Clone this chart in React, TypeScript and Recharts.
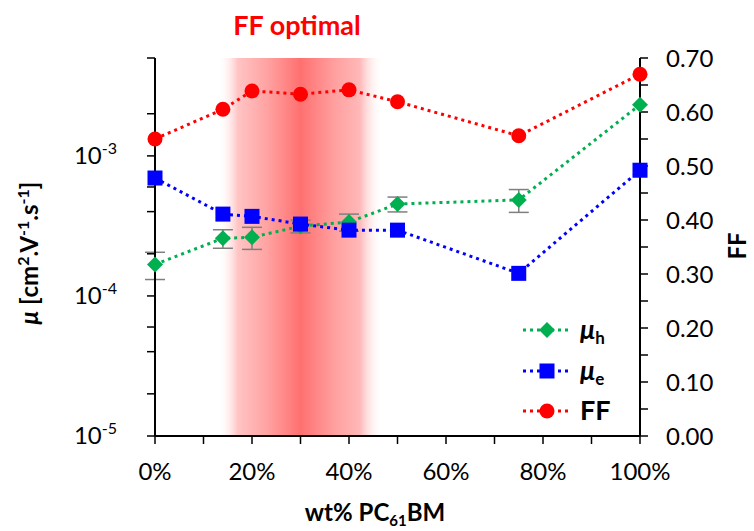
import React from "react";
import { ComposedChart, Line, XAxis, YAxis, ErrorBar, ReferenceArea } from "recharts";

// wt% PC61BM
const pcbm = [0, 14, 20, 30, 40, 50, 75, 100];
// hole mobility, cm2/Vs (left, log)
const muH = [1.68e-4, 2.58e-4, 2.62e-4, 3.15e-4, 3.37e-4, 4.53e-4, 4.85e-4, 2.32e-3];
const muHErr = [0.37e-4, 0.39e-4, 0.47e-4, 0.33e-4, 0.47e-4, 0.55e-4, 0.9e-4, 0];
// electron mobility
const muE = [6.95e-4, 3.84e-4, 3.7e-4, 3.26e-4, 2.95e-4, 2.95e-4, 1.45e-4, 7.9e-4];
// fill factor (right axis)
const ff = [0.55, 0.605, 0.639, 0.633, 0.641, 0.619, 0.556, 0.67];

const xTicks = [0, 10, 20, 30, 40, 50, 60, 70, 80, 90, 100];
const muTicks = [1e-5, 2e-5, 4e-5, 6e-5, 8e-5, 1e-4, 2e-4, 4e-4, 6e-4, 8e-4, 1e-3, 2e-3, 4e-3, 5e-3];
const ffTicks = [0, 0.05, 0.1, 0.15, 0.2, 0.25, 0.3, 0.35, 0.4, 0.45, 0.5, 0.55, 0.6, 0.65, 0.7];
const optimalRange = [13, 47];

const data = pcbm.map((x, i) => ({ x, muH: muH[i], muHErr: muHErr[i], muE: muE[i], ff: ff[i] }));

const FONT = "Lato, 'Open Sans', sans-serif";
const GREEN = "#00b050";
const BLUE = "#0000ff";
const RED = "#ff0000";

const diamond = (cx: number, cy: number, r: number) =>
  `M${cx},${cy - r}L${cx + r},${cy}L${cx},${cy + r}L${cx - r},${cy}Z`;

const DiamondDot = (p: any) =>
  p.cx == null ? null : <path key={p.index} d={diamond(p.cx, p.cy, 8)} fill={GREEN} />;
const SquareDot = (p: any) =>
  p.cx == null ? null : <rect key={p.index} x={p.cx - 7.5} y={p.cy - 7.5} width={15} height={15} fill={BLUE} />;
const CircleDot = (p: any) =>
  p.cx == null ? null : <circle key={p.index} cx={p.cx} cy={p.cy} r={7.5} fill={RED} />;

const MuTick = (p: any) => {
  const v = p.payload.value;
  const e = Math.round(Math.log10(v));
  if (Math.abs(v / Math.pow(10, e) - 1) > 1e-6) return <g />;
  return (
    <text x={p.x} y={p.y + 8} textAnchor="end" fontFamily={FONT} fontSize={24} fill="#000">
      10<tspan dy={-10} fontSize={16}>{e}</tspan>
    </text>
  );
};

const legendRows = [
  { name: "μ", sub: "h", color: GREEN, shape: "diamond", y: 330 },
  { name: "μ", sub: "e", color: BLUE, shape: "square", y: 371 },
  { name: "FF", sub: "", color: RED, shape: "circle", y: 411 },
];

export default function App() {
  return (
    <div style={{ position: "absolute", left: 0, top: 0, width: 754, height: 531, background: "#fff" }}>
      <ComposedChart width={754} height={531} data={data} margin={{ top: 58, right: 0, bottom: 0, left: 0 }}>
        <defs>
          <linearGradient id="band" x1="0" y1="0" x2="1" y2="0">
            <stop offset="0" stopColor="#ffffff" stopOpacity={0} />
            <stop offset="0.12" stopColor="#ffc4c4" />
            <stop offset="0.3" stopColor="#ffa2a2" />
            <stop offset="0.5" stopColor="#ff7070" />
            <stop offset="0.7" stopColor="#ff9e9e" />
            <stop offset="0.86" stopColor="#ffb8b8" />
            <stop offset="1" stopColor="#ffffff" stopOpacity={0} />
          </linearGradient>
        </defs>
        <XAxis
          dataKey="x"
          type="number"
          domain={[0, 100]}
          ticks={xTicks}
          height={95}
          tickSize={8}
          tickMargin={19}
          tickFormatter={(v: number) => (v % 20 === 0 ? `${v}%` : "")}
          tick={{ fontFamily: FONT, fontSize: 24, fill: "#000" }}
          axisLine={{ stroke: "#000", strokeWidth: 2 }}
          tickLine={{ stroke: "#000", strokeWidth: 1.5 }}
        />
        <XAxis
          xAxisId="top"
          orientation="top"
          dataKey="x"
          type="number"
          domain={[0, 100]}
          height={0}
          tick={false}
          tickLine={false}
          axisLine={{ stroke: "#333", strokeWidth: 2 }}
        />
        <YAxis
          yAxisId="mu"
          scale="log"
          type="number"
          domain={[1e-5, 5e-3]}
          allowDataOverflow
          ticks={muTicks}
          width={155}
          tickSize={8}
          tickMargin={30}
          tick={<MuTick />}
          axisLine={{ stroke: "#000", strokeWidth: 2 }}
          tickLine={{ stroke: "#000", strokeWidth: 1.5 }}
        />
        <YAxis
          yAxisId="ff"
          orientation="right"
          type="number"
          domain={[0, 0.7]}
          ticks={ffTicks}
          width={114}
          tickSize={8}
          tickMargin={18}
          tickFormatter={(v: number) => (Math.round(v * 100) % 10 === 0 ? v.toFixed(2) : "")}
          tick={{ fontFamily: FONT, fontSize: 24, fill: "#000" }}
          axisLine={{ stroke: "#000", strokeWidth: 2 }}
          tickLine={{ stroke: "#000", strokeWidth: 1.5 }}
        />
        <ReferenceArea
          yAxisId="mu"
          x1={optimalRange[0]}
          x2={optimalRange[1]}
          y1={1e-5}
          y2={5e-3}
          fill="url(#band)"
          fillOpacity={1}
          stroke="none"
        />
        <Line
          yAxisId="ff"
          dataKey="ff"
          stroke={RED}
          strokeWidth={3}
          strokeDasharray="3 4"
          dot={CircleDot}
          activeDot={false}
          isAnimationActive={false}
        />
        <Line
          yAxisId="mu"
          dataKey="muH"
          stroke={GREEN}
          strokeWidth={3}
          strokeDasharray="3 4"
          dot={DiamondDot}
          activeDot={false}
          isAnimationActive={false}
        >
          <ErrorBar dataKey="muHErr" direction="y" width={10} stroke="#7f7f7f" strokeWidth={1.5} />
        </Line>
        <Line
          yAxisId="mu"
          dataKey="muE"
          stroke={BLUE}
          strokeWidth={3}
          strokeDasharray="3 4"
          dot={SquareDot}
          activeDot={false}
          isAnimationActive={false}
        />

        <text x={297} y={35} textAnchor="middle" fontFamily={FONT} fontWeight="bold" fontSize={27} fill={RED}>
          FF optimal
        </text>
        <text
          x={38}
          y={253}
          transform="rotate(-90 38 253)"
          textAnchor="middle"
          fontFamily={FONT}
          fontWeight="bold"
          fontSize={24}
          fill="#000"
        >
          <tspan fontStyle="italic">μ</tspan> [cm<tspan dy={-9} fontSize={16}>2</tspan>
          <tspan dy={9}>.V</tspan>
          <tspan dy={-9} fontSize={16}>-1</tspan>
          <tspan dy={9}>.s</tspan>
          <tspan dy={-9} fontSize={16}>-1</tspan>
          <tspan dy={9}>]</tspan>
        </text>
        <text
          x={746}
          y={246}
          transform="rotate(-90 746 246)"
          textAnchor="middle"
          fontFamily={FONT}
          fontWeight="bold"
          fontSize={24}
          fill="#000"
        >
          FF
        </text>
        <text x={375} y={521} textAnchor="middle" fontFamily={FONT} fontWeight="bold" fontSize={24} fill="#000">
          wt% PC<tspan dy={5} fontSize={15}>61</tspan>
          <tspan dy={-5}>BM</tspan>
        </text>
        {legendRows.map((r) => (
          <g key={r.sub || r.name}>
            <line x1={523} x2={570} y1={r.y} y2={r.y} stroke={r.color} strokeWidth={3} strokeDasharray="3 4" />
            {r.shape === "diamond" && <path d={diamond(547, r.y, 8)} fill={r.color} />}
            {r.shape === "square" && <rect x={539.5} y={r.y - 7.5} width={15} height={15} fill={r.color} />}
            {r.shape === "circle" && <circle cx={547} cy={r.y} r={7.5} fill={r.color} />}
            <text x={580} y={r.y + 9} fontFamily={FONT} fontWeight="bold" fontSize={27} fill="#000">
              {r.sub ? <tspan fontStyle="italic">{r.name}</tspan> : r.name}
              {r.sub && (
                <tspan dy={5} fontSize={17}>
                  {r.sub}
                </tspan>
              )}
            </text>
          </g>
        ))}
      </ComposedChart>
    </div>
  );
}
